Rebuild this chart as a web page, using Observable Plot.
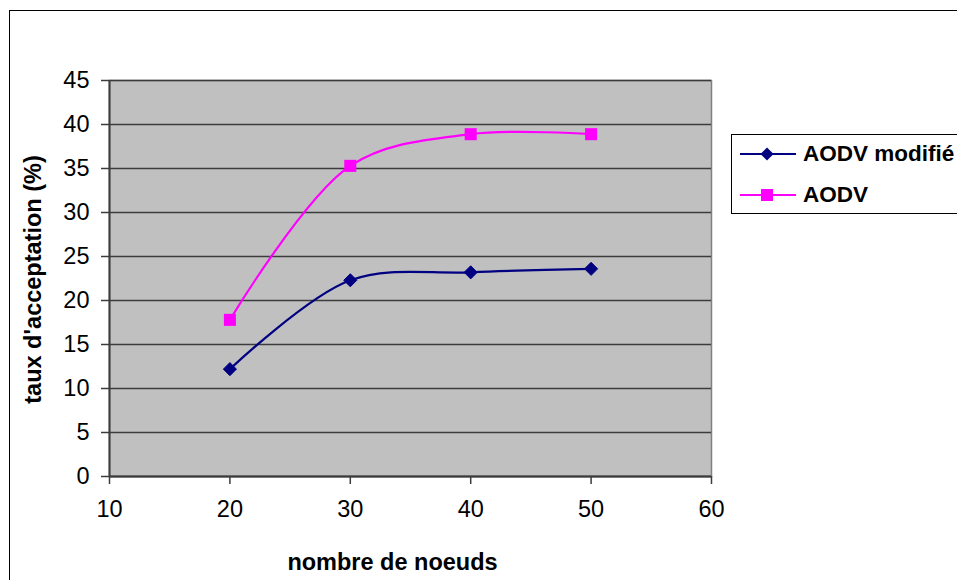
<!DOCTYPE html>
<html>
<head>
<meta charset="utf-8">
<script src="https://cdn.jsdelivr.net/npm/d3@7"></script>
<script src="https://cdn.jsdelivr.net/npm/@observablehq/plot@0.6"></script>
<style>
  html, body { margin: 0; padding: 0; background: #fff; }
  #wrap { position: relative; width: 957px; height: 580px; overflow: hidden; font-family: "Liberation Sans", Arial, sans-serif; }
  #border { position: absolute; left: 9px; top: 10px; width: 1000px; height: 700px; border: 1px solid #000; box-sizing: border-box; pointer-events: none; }
  #legend { position: absolute; left: 731px; top: 134px; width: 300px; height: 80px; border: 1px solid #000; box-sizing: border-box; background: #fff; }
  .entry { position: absolute; left: 8px; height: 24px; display: flex; align-items: center; }
  .entry span { font-weight: bold; font-size: 22.5px; color: #000; margin-left: 7px; white-space: nowrap; }
  #chart { position: absolute; left: 0; top: 0; }
</style>
</head>
<body>
<div id="wrap">
  <div id="chart"></div>
  <div id="border"></div>
  <div id="legend"></div>
</div>
<script>
const nodes = [20, 30, 40, 50];
const aodvModifie = [12.2, 22.3, 23.2, 23.6];
const aodv = [17.8, 35.3, 38.9, 38.9];
const seriesNames = ["AODV modifié", "AODV"];
const seriesColors = ["#000080", "#FF00FF"];
const xTicks = [10, 20, 30, 40, 50, 60];
const yTicks = [0, 5, 10, 15, 20, 25, 30, 35, 40, 45];
const xTitle = "nombre de noeuds";
const yTitle = "taux d'acceptation (%)";

const dataMod = nodes.map((n, i) => ({x: n, y: aodvModifie[i]}));
const dataAodv = nodes.map((n, i) => ({x: n, y: aodv[i]}));

const chart = Plot.plot({
  width: 957,
  height: 580,
  marginLeft: 109,
  marginRight: 246,
  marginTop: 80,
  marginBottom: 104,
  style: {fontFamily: "'Liberation Sans', Arial, sans-serif", background: "transparent", overflow: "visible"},
  x: {domain: [10, 60], ticks: xTicks},
  y: {domain: [0, 45], ticks: yTicks},
  marks: [
    Plot.frame({fill: "#C0C0C0", stroke: "#808080", strokeWidth: 1.5}),
    Plot.gridY(yTicks, {stroke: "#3c3c3c", strokeOpacity: 1, strokeWidth: 1.5}),
    Plot.ruleX([10], {stroke: "#3c3c3c", strokeWidth: 2}),
    Plot.ruleY([0], {stroke: "#3c3c3c", strokeWidth: 2}),
    Plot.axisX(xTicks, {tickSize: 8, tickPadding: 16, fontSize: 23.5, stroke: "#3c3c3c", strokeWidth: 1.5, color: "#000", label: null}),
    Plot.axisY(yTicks, {tickSize: 8, tickPadding: 12, fontSize: 23.5, stroke: "#3c3c3c", strokeWidth: 1.5, color: "#000", label: null}),
    Plot.line(dataMod, {x: "x", y: "y", stroke: seriesColors[0], strokeWidth: 2.2, curve: "catmull-rom"}),
    Plot.line(dataAodv, {x: "x", y: "y", stroke: seriesColors[1], strokeWidth: 2.2, curve: "catmull-rom"}),
    Plot.dot(dataMod, {x: "x", y: "y", symbol: "diamond2", r: 5.9, fill: seriesColors[0], stroke: seriesColors[0], strokeWidth: 1}),
    Plot.dot(dataAodv, {x: "x", y: "y", symbol: "square", r: 6.8, fill: seriesColors[1], stroke: "none"}),
    Plot.text([xTitle], {frameAnchor: "bottom", dx: -18, dy: 86, fontSize: 23.5, fontWeight: "bold", fill: "#000", lineAnchor: "middle", textAnchor: "middle"}),
    Plot.text([yTitle], {frameAnchor: "left", dx: -76, dy: 1, rotate: -90, fontSize: 23.5, fontWeight: "bold", fill: "#000", lineAnchor: "middle", textAnchor: "middle"})
  ]
});
document.getElementById("chart").appendChild(chart);

// Legend
const legend = document.getElementById("legend");
const symbols = [d3.symbolDiamond2, d3.symbolSquare];
const sizes = [Math.PI * 5.9 * 5.9, Math.PI * 6.8 * 6.8];
const tops = [7, 48];
seriesNames.forEach((name, i) => {
  const div = document.createElement("div");
  div.className = "entry";
  div.style.top = tops[i] + "px";
  const svg = d3.create("svg").attr("width", 56).attr("height", 24);
  svg.append("line").attr("x1", 0).attr("x2", 56).attr("y1", 12).attr("y2", 12)
    .attr("stroke", seriesColors[i]).attr("stroke-width", 2.2);
  svg.append("path").attr("d", d3.symbol(symbols[i], sizes[i])())
    .attr("transform", "translate(27,12)").attr("fill", seriesColors[i]);
  div.appendChild(svg.node());
  const span = document.createElement("span");
  span.textContent = name;
  div.appendChild(span);
  legend.appendChild(div);
});
</script>
</body>
</html>
